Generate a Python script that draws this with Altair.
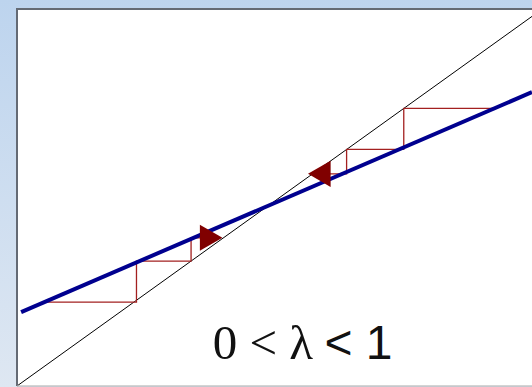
import altair as alt
import pandas as pd

# Plot area in pixels (the white panel) and the frame padding around it
W, H = 515, 377
PAD = {"left": 17, "top": 9, "right": 0, "bottom": 1}

# 45-degree reference line y = x
diag_x = [0.0, 10.0]
diag_y = [0.0, 10.0]

# Linear map with slope 0 < lambda < 1 (crosses the diagonal near x = 4.87)
map_x = [0.08, 10.0]
map_y = [2.00, 7.95]

# Cobweb from the left (iterates rising toward the fixed point)
web_left_x = [0.54, 2.32, 2.32, 3.38, 3.38, 3.62]
web_left_y = [2.27, 2.27, 3.38, 3.38, 4.01, 4.01]

# Cobweb from the right (iterates falling toward the fixed point)
web_right_x = [9.30, 7.51, 7.51, 6.40, 6.40, 6.00]
web_right_y = [7.51, 7.51, 6.40, 6.40, 5.74, 5.74]

# Direction arrows at the ends of the cobwebs
arrow_x = [3.77, 5.87]
arrow_y = [4.01, 5.74]
arrow_shape = ["triangle-right", "triangle-left"]

# Caption pieces
label_serif = "0 < λ"
label_sans = "< 1"
label_serif_xy = (3.80, 0.72)
label_sans_xy = (5.97, 0.72)

xs = alt.Scale(domain=[0, 10], nice=False, zero=False)
ys = alt.Scale(domain=[0, 10.2], nice=False, zero=False)
X = lambda f: alt.X(f, type="quantitative", scale=xs, axis=None)
Y = lambda f: alt.Y(f, type="quantitative", scale=ys, axis=None)

one = pd.DataFrame({"k": [0]})

# Light blue slide background behind the panel
backdrop = alt.Chart(one).mark_rect(
    clip=False,
    color=alt.Gradient(
        gradient="linear",
        stops=[alt.GradientStop(color="#bdd4ee", offset=0),
               alt.GradientStop(color="#dee7f2", offset=1)],
        x1=0, x2=0, y1=0, y2=1,
    ),
).encode(
    x=alt.value(-PAD["left"]), x2=alt.value(W + 10),
    y=alt.value(-PAD["top"]), y2=alt.value(H + PAD["bottom"]),
)

panel = alt.Chart(one).mark_rect(color="white", clip=False).encode(
    x=alt.value(0), x2=alt.value(W + 10), y=alt.value(0), y2=alt.value(H)
)

frame_top = alt.Chart(one).mark_rule(color="#646a74", strokeWidth=2, clip=False).encode(
    x=alt.value(-1), x2=alt.value(W + 10), y=alt.value(0)
)
frame_left = alt.Chart(one).mark_rule(color="#646a74", strokeWidth=2, clip=False).encode(
    x=alt.value(0), y=alt.value(0), y2=alt.value(H)
)
frame_bottom = alt.Chart(one).mark_rule(color="#a9a9a9", strokeWidth=1, clip=False).encode(
    x=alt.value(0), x2=alt.value(W + 10), y=alt.value(H)
)

diag = alt.Chart(pd.DataFrame({"x": diag_x, "y": diag_y})).mark_line(
    color="black", strokeWidth=1
).encode(x=X("x"), y=Y("y"))

def web(xv, yv):
    df = pd.DataFrame({"x": xv, "y": yv, "o": range(len(xv))})
    return alt.Chart(df).mark_line(color="#a32020", strokeWidth=1.3).encode(
        x=X("x"), y=Y("y"), order="o:Q"
    )

mapping = alt.Chart(pd.DataFrame({"x": map_x, "y": map_y})).mark_line(
    color="#00008f", strokeWidth=4
).encode(x=X("x"), y=Y("y"))

arrows = alt.Chart(pd.DataFrame({"x": arrow_x, "y": arrow_y, "s": arrow_shape})).mark_point(
    filled=True, size=680, opacity=1, color="#800000", strokeWidth=0
).encode(
    x=X("x"), y=Y("y"),
    shape=alt.Shape("s:N", scale=alt.Scale(domain=arrow_shape, range=arrow_shape), legend=None),
)

cap1 = alt.Chart(pd.DataFrame({"x": [label_serif_xy[0]], "y": [label_serif_xy[1]], "t": [label_serif]})).mark_text(
    font="Liberation Serif", fontSize=49, align="left", baseline="alphabetic", color="#111111"
).encode(x=X("x"), y=Y("y"), text="t:N")

cap2 = alt.Chart(pd.DataFrame({"x": [label_sans_xy[0]], "y": [label_sans_xy[1]], "t": [label_sans]})).mark_text(
    font="Liberation Sans", fontSize=48, align="left", baseline="alphabetic", color="#111111"
).encode(x=X("x"), y=Y("y"), text="t:N")

chart = alt.layer(
    backdrop, panel, diag,
    web(web_left_x, web_left_y), web(web_right_x, web_right_y),
    mapping, arrows, cap1, cap2,
    frame_top, frame_left, frame_bottom,
).properties(
    width=W, height=H, padding=PAD,
    autosize=alt.AutoSizeParams(type="none"),
).configure_view(stroke=None)

chart.save("out.html", embed_options={"renderer": "svg", "actions": False})
